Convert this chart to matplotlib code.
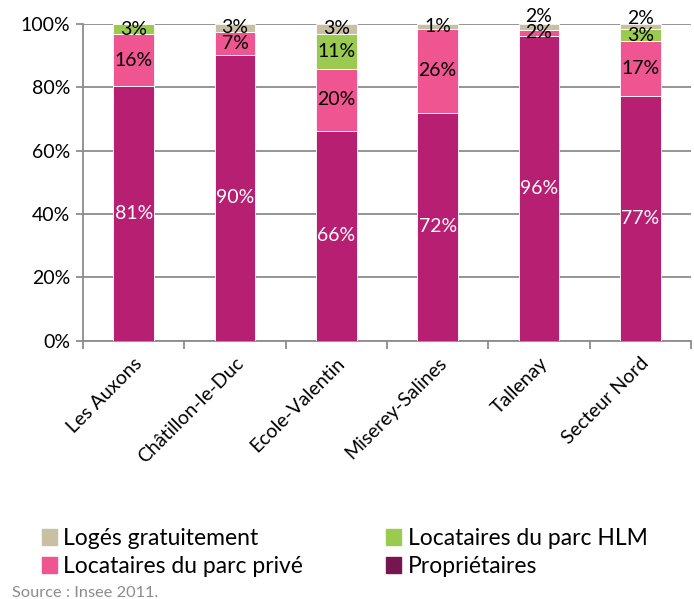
import numpy as np
import matplotlib.pyplot as plt
from matplotlib.patches import Patch

plt.rcParams['font.family'] = ['Lato', 'DejaVu Sans']

# Data (share of households, %), bar heights
communes = ['Les Auxons', 'Châtillon-le-Duc', 'Ecole-Valentin',
            'Miserey-Salines', 'Tallenay', 'Secteur Nord']
proprietaires = [80.5, 90.2, 66.2, 72.0, 96.3, 77.4]
loc_prive = [16.2, 7.2, 19.7, 26.5, 1.8, 17.3]
loc_hlm = [3.3, 0.0, 11.0, 0.0, 0.0, 3.6]
loges = [0.0, 2.6, 3.1, 1.5, 1.9, 1.7]

# labels printed on the chart (rounded values)
lab_proprietaires = [81, 90, 66, 72, 96, 77]
lab_prive = [16, 7, 20, 26, 2, 17]
lab_hlm = [3, 0, 11, 0, 0, 3]
lab_loges = [0, 3, 3, 1, 2, 2]

series = [
    ('Propriétaires', proprietaires, lab_proprietaires, '#B71F72', '#761550', 'white'),
    ('Locataires du parc privé', loc_prive, lab_prive, '#EE5591', '#EE5591', 'black'),
    ('Locataires du parc HLM', loc_hlm, lab_hlm, '#9ACA50', '#9ACA50', 'black'),
    ('Logés gratuitement', loges, lab_loges, '#C9BFA3', '#C9BFA3', 'black'),
]

fig = plt.figure(figsize=(6.94, 5.99), dpi=100)
ax = fig.add_axes([0.1196, 0.431, 0.876, 0.529])

x = np.arange(len(communes))
bottom = np.zeros(len(communes))
last_label = np.full(len(communes), -100.0)
for name, vals, labs, col, _, tcol in series:
    vals = np.array(vals)
    ax.bar(x, vals, 0.4, bottom=bottom, color=col, edgecolor='white', linewidth=0.6, zorder=3)
    for i, (b, v, lab) in enumerate(zip(bottom, vals, labs)):
        if lab <= 0:
            continue
        y = max(b + v / 2, last_label[i] + 5.2)  # keep small labels from overlapping
        last_label[i] = y
        ax.text(x[i], y, f'{lab}%', ha='center', va='center',
                fontsize=14, color=tcol, zorder=4, clip_on=False)
    bottom += vals

ax.set_xlim(-0.5, len(communes) - 0.5)
ax.set_ylim(0, 100)
ax.set_yticks(range(0, 101, 20))
ax.set_yticklabels([f'{v}%' for v in range(0, 101, 20)], fontsize=14)
ax.yaxis.grid(True, color='#8C8C8C', linewidth=1.3, zorder=0)
ax.tick_params(axis='y', length=5, color='#8C8C8C', width=1.3, pad=4)

ax.set_xticks(x)
ax.set_xticklabels(communes, rotation=45, ha='right', rotation_mode='anchor', fontsize=14)
ax.tick_params(axis='x', length=0, pad=10)
ax.set_xticks(np.arange(-0.5, len(communes)), minor=True)
ax.tick_params(axis='x', which='minor', length=6, color='#8C8C8C', width=1.3)

for s in ['top', 'right']:
    ax.spines[s].set_visible(False)
for s in ['left', 'bottom']:
    ax.spines[s].set_color('#8C8C8C')
    ax.spines[s].set_linewidth(1.3)

handles = [Patch(color=leg, label=name) for name, _, _, _, leg, _ in series]
# order so that the 2-column legend reads row-wise like the original
order = [3, 1, 2, 0]
fig.legend([handles[i] for i in order], [handles[i].get_label() for i in order],
           ncol=2, loc='lower left', bbox_to_anchor=(0.037, 0.01), frameon=False,
           fontsize=16.5, handlelength=0.65, handleheight=0.65, handletextpad=0.3,
           columnspacing=3.6, labelspacing=0.3, borderpad=0.2)

fig.text(0.017, 0.004, 'Source : Insee 2011.', color='#8C8C8C', fontsize=11.8)

fig.savefig('out.png', dpi=100)
